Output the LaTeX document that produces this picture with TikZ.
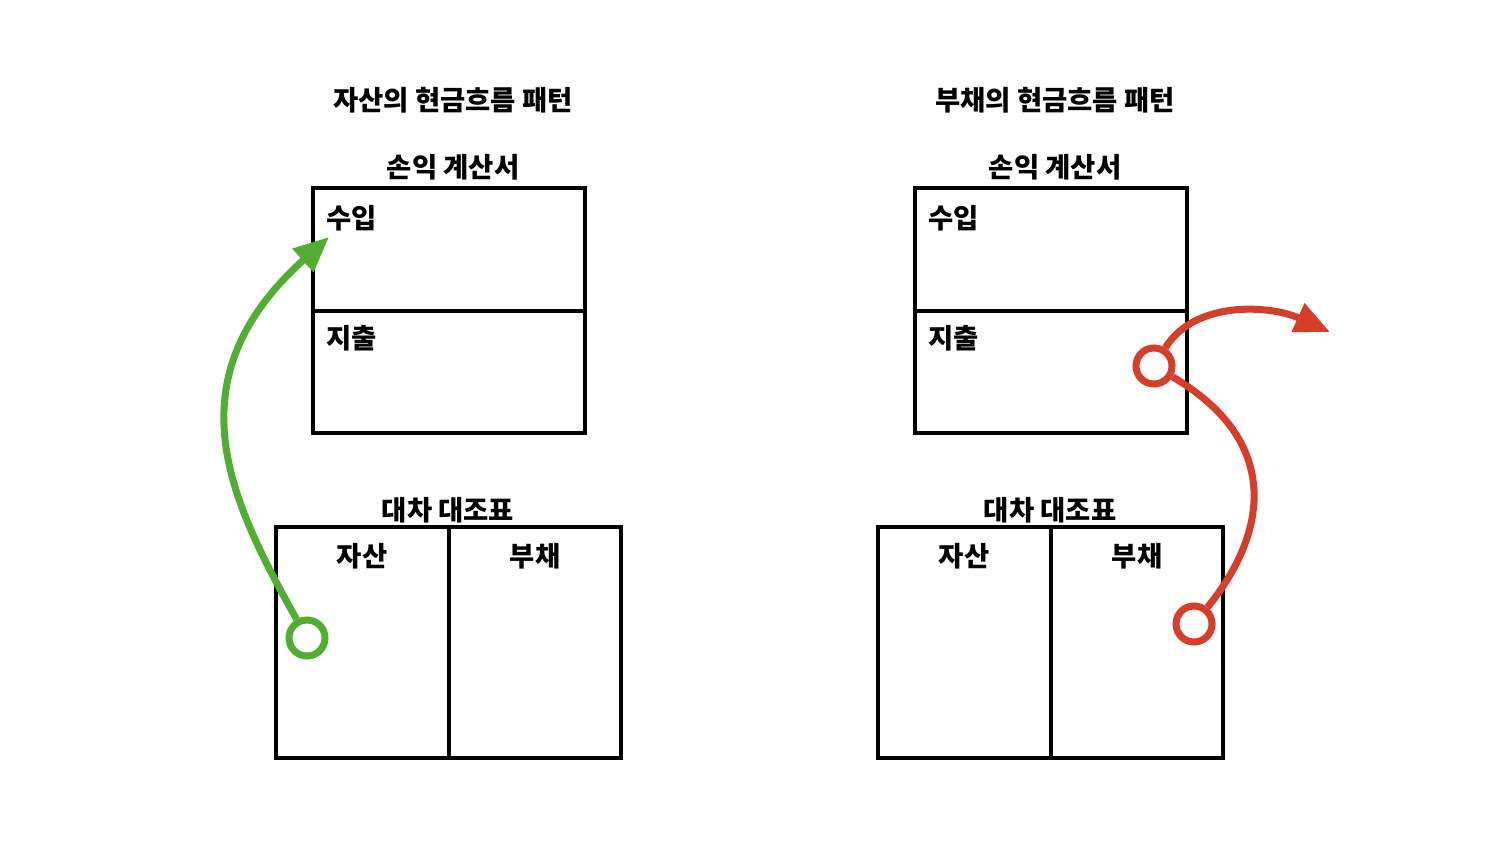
\documentclass[tikz,border=0pt]{standalone}
\usepackage{fontspec}
\setmainfont{Noto Sans CJK KR}
\usetikzlibrary{arrows.meta}
\definecolor{flowgreen}{HTML}{52AE32}
\definecolor{flowred}{HTML}{D63E2A}
\tikzset{
    boxline/.style={line width=0.95pt},
    txt/.style={font=\fontsize{7.8pt}{8.5pt}\selectfont\bfseries, inner sep=0pt},
    ring/.style={circle, draw=#1, line width=2pt, minimum size=0.36cm, inner sep=0pt},
    flow/.style={draw=#1, line width=2pt, -{Triangle[length=10pt,width=8.5pt]}},
    link/.style={draw=#1, line width=2pt},
  }
\begin{document}
\begin{tikzpicture}[x=0.01cm,y=-0.01cm]
				  \useasboundingbox (0,0) rectangle (1500,843);

				  %ACTIF (gauche)
				  \node[txt] (titreA) at (453,100) {자산의 현금흐름 패턴};
				  \node[txt] (plA) at (453,167) {손익 계산서};
				  \draw[boxline] (313,188) rectangle (585,433);
				  \draw[boxline] (313,311) -- (585,311);
				  \node[txt,anchor=west] (suipA) at (326,218) {수입};
				  \node[txt,anchor=west] (jichulA) at (326,338) {지출};

				  \node[txt] (bsA) at (448,510) {대차 대조표};
				  \draw[boxline] (276,527) rectangle (621,758);
				  \draw[boxline] (449,527) -- (449,758);
				  \node[txt] (jasanA) at (362,556) {자산};
				  \node[txt] (buchaeA) at (535,556) {부채};

				  %fleche verte
				  \node[ring=flowgreen] (gA) at (307,638) {};
				  \coordinate (gT) at (329,237);
				  \draw[flow=flowgreen] (gA) .. controls (230,500) and (170,380) .. (gT);

				  %PASSIF (droite)
				  \node[txt] (titreB) at (1055,100) {부채의 현금흐름 패턴};
				  \node[txt] (plB) at (1055,167) {손익 계산서};
				  \draw[boxline] (915,188) rectangle (1187,433);
				  \draw[boxline] (915,311) -- (1187,311);
				  \node[txt,anchor=west] (suipB) at (928,218) {수입};
				  \node[txt,anchor=west] (jichulB) at (928,338) {지출};

				  \node[txt] (bsB) at (1050,510) {대차 대조표};
				  \draw[boxline] (878,527) rectangle (1223,758);
				  \draw[boxline] (1051,527) -- (1051,758);
				  \node[txt] (jasanB) at (964,556) {자산};
				  \node[txt] (buchaeB) at (1137,556) {부채};

				  %fleches rouges
				  \node[ring=flowred] (rA) at (1154,366) {};
				  \node[ring=flowred] (rB) at (1194,624) {};
				  \coordinate (rT) at (1330,332);
				  \draw[link=flowred] (rB) .. controls (1270,530) and (1280,440) .. (rA);
				  \draw[flow=flowred] (rA) .. controls (1195,300) and (1270,305) .. (rT);
				  \end{tikzpicture}
\end{document}
